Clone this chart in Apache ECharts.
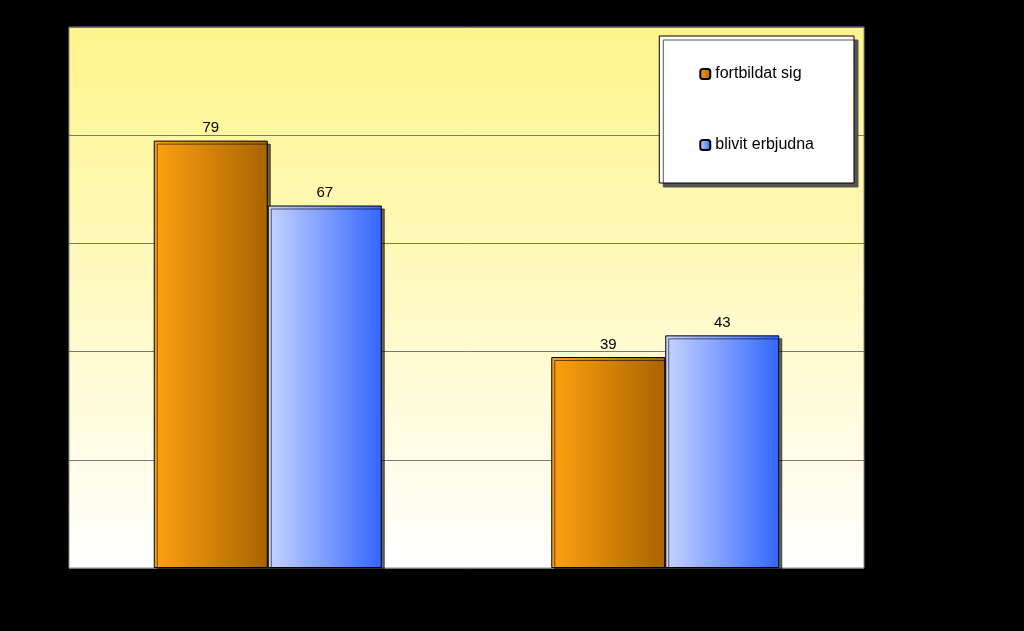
<!DOCTYPE html><html><head><meta charset="utf-8">
<script src="https://cdn.jsdelivr.net/npm/echarts@6/dist/echarts.min.js"></script>
<style>html,body{margin:0;background:#000}#c{width:1024px;height:631px}</style></head><body><div id="c"></div><script>
const categories=['Högskoleutbildade','Övriga'];
const seriesNames=['fortbildat sig','blivit erbjudna'];
const fortbildat=[79,39];
const erbjudna=[67,43];
const G=echarts.graphic;
const orange=new G.LinearGradient(0,0,1,0,[{offset:0,color:'#ffa010'},{offset:1,color:'#a86400'}]);
const blue=new G.LinearGradient(0,0,1,0,[{offset:0,color:'#c8d4ff'},{offset:1,color:'#3366ff'}]);
const chart=echarts.init(document.getElementById('c'));
chart.setOption({
backgroundColor:'#000',animation:false,
grid:{left:69,right:160,top:27,bottom:63,backgroundColor:new G.LinearGradient(0,0,0,1,[{offset:0,color:'#fff48a'},{offset:1,color:'#ffffff'}]),show:true,borderColor:'#888',borderWidth:1},
legend:{right:170,top:36,orient:'vertical',itemGap:55,padding:[30,40,30,40],backgroundColor:'#fff',borderColor:'#000',borderWidth:1,shadowColor:'#555',shadowOffsetX:4,shadowOffsetY:4,shadowBlur:0,itemWidth:10,itemHeight:10,textStyle:{fontFamily:'Liberation Sans',fontSize:16,color:'#000'},data:seriesNames},
xAxis:{type:'category',data:categories,axisLine:{show:false},axisTick:{show:false},axisLabel:{color:'#000',fontFamily:'Liberation Sans',fontSize:16,margin:24}},
yAxis:{type:'value',min:0,max:100,interval:20,axisLabel:{color:'#000',fontFamily:'Liberation Sans',fontSize:12},splitLine:{lineStyle:{color:'#777'}}},
series:[
{name:seriesNames[0],type:'bar',data:fortbildat,barWidth:114,barGap:'0%',itemStyle:{color:orange,borderColor:'#000',borderWidth:1,shadowColor:'rgba(0,0,0,0.6)',shadowOffsetX:3,shadowOffsetY:3},label:{show:true,position:'top',color:'#000',fontFamily:'Liberation Sans',fontSize:15}},
{name:seriesNames[1],type:'bar',data:erbjudna,barWidth:114,itemStyle:{color:blue,borderColor:'#000',borderWidth:1,shadowColor:'rgba(0,0,0,0.6)',shadowOffsetX:3,shadowOffsetY:3},label:{show:true,position:'top',color:'#000',fontFamily:'Liberation Sans',fontSize:15}}
]});
</script></body></html>
